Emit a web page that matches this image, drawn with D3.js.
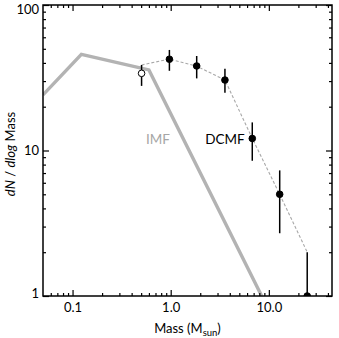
<!DOCTYPE html>
<html>
<head>
<meta charset="utf-8">
<script src="https://cdn.jsdelivr.net/npm/d3@7"></script>
<style>
  body { margin: 0; background: #fff; }
  text { font-family: Lato, "Noto Sans", sans-serif; }
</style>
</head>
<body>
<div id="chart"></div>
<script>
// IMF model (gray thick line)
let imfMass = [0.05, 0.123, 0.6, 8.45]
let imfN = [24.1, 45.8, 35.8, 1.0]

// DCMF points with error bars
let dcmfMass = [0.505, 0.97, 1.84, 3.57, 6.78, 12.9, 24.6]
let dcmfN = [33.9, 42.4, 38.1, 30.5, 12.1, 5.0, 1.0]
let dcmfLow = [27.8, 35.3, 31.3, 24.9, 8.5, 2.7, 0.5]
let dcmfHigh = [38.7, 49.1, 44.6, 36.5, 15.6, 7.3, 2.0]
let dcmfOpen = [true, false, false, false, false, false, false]

// dashed fit through the points
let fitMass = [0.505, 0.97, 1.84, 3.57, 6.78, 12.9, 24.6]
let fitN = [38.7, 42.5, 38.0, 30.5, 12.1, 5.0, 2.0]

let xMajor = [0.1, 1, 10]
let xMajorLabels = ['0.1', '1.0', '10.0']
let xMinor = [0.06, 0.07, 0.08, 0.09, 0.2, 0.3, 0.4, 0.5, 0.6, 0.7, 0.8, 0.9,
  2, 3, 4, 5, 6, 7, 8, 9, 20, 30, 40]
let yMajor = [1, 10, 100]
let yMajorLabels = ['1', '10', '100']
let yMinor = [2, 3, 4, 5, 6, 7, 8, 9, 20, 30, 40, 50, 60, 70, 80, 90]

let margin = { top: 5, left: 43, right: 7, bottom: 42 }
let width = 339 - margin.left - margin.right
let height = 338 - margin.top - margin.bottom

let svg = d3
  .select('#chart')
  .append('svg')
  .attr('width', 339)
  .attr('height', 338)
  .append('g')
  .attr('transform', 'translate(' + margin.left + ',' + margin.top + ')')

let x = d3.scaleLog().domain([0.05, 44]).range([0, width])
let y = d3.scaleLog().domain([1, 100]).range([height, 0])

svg.append('clipPath').attr('id', 'clip')
  .append('rect').attr('width', width).attr('height', height)

let plot = svg.append('g').attr('clip-path', 'url(#clip)')

// IMF
let imfLine = d3.line().x(d => x(d[0])).y(d => y(d[1]))
plot.append('path')
  .datum(imfMass.map((m, i) => [m, imfN[i]]))
  .attr('d', imfLine)
  .attr('fill', 'none')
  .attr('stroke', '#b3b3b3')
  .attr('stroke-width', 3.4)
  .attr('stroke-linejoin', 'miter')

// dashed fit
plot.append('path')
  .datum(fitMass.map((m, i) => [m, fitN[i]]))
  .attr('d', imfLine)
  .attr('fill', 'none')
  .attr('stroke', '#a8a8a8')
  .attr('stroke-width', 1.1)
  .attr('stroke-dasharray', '3,2')

// error bars
plot.selectAll('.err')
  .data(dcmfMass)
  .enter()
  .append('line')
  .attr('class', 'err')
  .attr('x1', d => x(d))
  .attr('x2', d => x(d))
  .attr('y1', (d, i) => y(dcmfLow[i]))
  .attr('y2', (d, i) => y(dcmfHigh[i]))
  .attr('stroke', 'black')
  .attr('stroke-width', 1.5)

// points
plot.selectAll('.pt')
  .data(dcmfMass)
  .enter()
  .append('circle')
  .attr('class', 'pt')
  .attr('cx', d => x(d))
  .attr('cy', (d, i) => y(dcmfN[i]))
  .attr('r', 3.3)
  .attr('fill', (d, i) => dcmfOpen[i] ? 'white' : 'black')
  .attr('stroke', 'black')
  .attr('stroke-width', 1)

// labels
svg.append('text')
  .text('IMF')
  .attr('x', x(0.56))
  .attr('y', y(11.1))
  .attr('font-size', 13.5)
  .attr('fill', '#a6a6a6')

svg.append('text')
  .text('DCMF')
  .attr('x', x(2.25))
  .attr('y', y(11.1))
  .attr('font-size', 13.5)
  .attr('fill', 'black')

// axes, ticks on all four sides pointing in
function addAxis(axisFn, scale, vals, size, labels, transform) {
  let a = axisFn(scale).tickValues(vals).tickSize(-size)
  if (labels) {
    a.tickFormat((d, i) => labels[i]).tickPadding(axisFn === d3.axisBottom ? 7 : 4)
  } else {
    a.tickFormat('')
  }
  let g = svg.append('g').attr('transform', transform).call(a)
  g.select('.domain').remove()
  g.selectAll('line').attr('stroke', 'black').attr('stroke-width', 1.2)
  g.selectAll('text').attr('font-size', 13).attr('fill', 'black').style('font-family', 'Lato, sans-serif')
  return g
}

addAxis(d3.axisBottom, x, xMajor, 6, xMajorLabels, 'translate(0,' + height + ')')
addAxis(d3.axisBottom, x, xMinor, 3, null, 'translate(0,' + height + ')')
addAxis(d3.axisTop, x, xMajor, 6, null, 'translate(0,0)')
addAxis(d3.axisTop, x, xMinor, 3, null, 'translate(0,0)')
let yAx = addAxis(d3.axisLeft, y, yMajor, 6, yMajorLabels, 'translate(0,0)')
addAxis(d3.axisLeft, y, yMinor, 3, null, 'translate(0,0)')
addAxis(d3.axisRight, y, yMajor, 6, null, 'translate(' + width + ',0)')
addAxis(d3.axisRight, y, yMinor, 3, null, 'translate(' + width + ',0)')

// keep the end labels inside the figure, as in the original
yAx.selectAll('text').attr('dy', d => d === 100 ? '0.62em' : d === 1 ? '0.1em' : '0.32em')

// frame
svg.append('rect')
  .attr('width', width)
  .attr('height', height)
  .attr('fill', 'none')
  .attr('stroke', 'black')
  .attr('stroke-width', 1.5)

// axis titles
let xt = svg.append('text')
  .attr('x', width / 2)
  .attr('y', height + 37)
  .attr('text-anchor', 'middle')
  .attr('font-size', 13)
xt.append('tspan').text('Mass (M')
xt.append('tspan').text('sun').attr('font-size', 9.5).attr('dy', 3)
xt.append('tspan').text(')').attr('dy', -3)

let yt = svg.append('text')
  .attr('transform', 'translate(' + (15 - margin.left) + ',' + (154 - margin.top) + ') rotate(-90)')
  .attr('text-anchor', 'middle')
  .attr('font-size', 13)
yt.append('tspan').text('dN').attr('font-style', 'italic')
yt.append('tspan').text(' / ')
yt.append('tspan').text('dlog').attr('font-style', 'italic')
yt.append('tspan').text(' Mass')
</script>
</body>
</html>
